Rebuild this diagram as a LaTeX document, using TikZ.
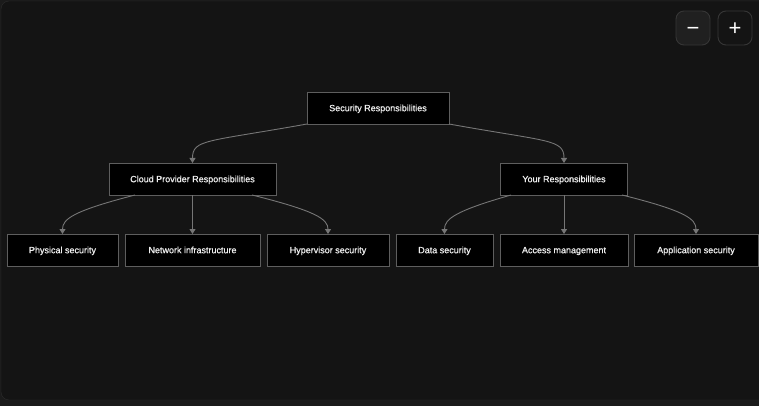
\documentclass[tikz,border=0pt]{standalone}
\usepackage{fontspec}
\setmainfont{Liberation Sans}
\newfontfamily\boxfont[FakeBold=0.8]{Liberation Sans}
\usetikzlibrary{positioning}
\usetikzlibrary{arrows.meta}

\definecolor{outside}{HTML}{1B1B1B}
\definecolor{canvas}{HTML}{141414}
\definecolor{frameline}{HTML}{2C2C2C}
\definecolor{boxline}{HTML}{5E5E5E}
\definecolor{boxtext}{HTML}{F0F0F0}
\definecolor{linkgray}{HTML}{767676}
\definecolor{btnfill}{HTML}{202020}
\definecolor{btnline}{HTML}{363636}

\begin{document}
\begin{tikzpicture}[
    x=1pt, y=-1pt,
    box/.style={draw=boxline, fill=black, text=boxtext, line width=0.9pt,
      minimum height=32pt, inner sep=0pt, outer sep=0pt,
      text height=6.4pt, text depth=0pt,
      font=\boxfont\fontsize{9}{10}\selectfont},
    link/.style={draw=linkgray, line width=0.9pt,
      -{Triangle[length=5pt,width=6pt]}},
    zoombtn/.style={draw=btnline, line width=0.9pt, rounded corners=8pt,
      minimum width=34pt, minimum height=34pt, inner sep=0pt, outer sep=0pt,
      text height=14.6pt, text depth=0pt,
      text=white, font=\fontsize{22}{22}\selectfont}]
    \useasboundingbox (0,0) rectangle (759,406);
    % sfondo e pannello
    \fill[outside] (0,0) rectangle (759,406);
    \begin{scope}
      \clip (0,0) rectangle (759,406);
      \draw[frameline, fill=canvas, rounded corners=8pt] (1,1) rectangle (800,400);
    \end{scope}

    % pulsanti zoom
    \node[zoombtn, fill=btnfill] (zoomout) at (693,28) {−};
    \node[zoombtn, fill=canvas, right=8pt of zoomout] (zoomin) {+};

    % radice
    \node[box, minimum width=142pt] (root) at (378,108) {Security Responsibilities};

    % livello intermedio
    \node[box, minimum width=167pt, below=39pt of root, xshift=-185.5pt] (cloud) {Cloud Provider Responsibilities};
    \node[box, minimum width=127pt, below=39pt of root, xshift=186pt] (yours) {Your Responsibilities};

    % foglie, una accanto all'altra
    \node[box, minimum width=111pt, below=39pt of cloud, xshift=-130pt] (physical) {Physical security};
    \node[box, minimum width=135pt, right=7pt of physical] (network) {Network infrastructure};
    \node[box, minimum width=122pt, right=7pt of network] (hypervisor) {Hypervisor security};
    \node[box, minimum width=97pt, right=7pt of hypervisor] (data) {Data security};
    \node[box, minimum width=128pt, right=7pt of data] (access) {Access management};
    \node[box, minimum width=124pt, right=6pt of access] (application) {Application security};

    % collegamenti
    \draw[link] (root.south west) .. controls +(-100,18) and +(0,-24) .. (cloud.north);
    \draw[link] (root.south east) .. controls +(100,18) and +(0,-24) .. (yours.north);

    \draw[link] ([xshift=-57.5pt]cloud.south) .. controls +(-62,16) and +(0,-15) .. (physical.north);
    \draw[link] (cloud.south) -- (network.north);
    \draw[link] ([xshift=59.5pt]cloud.south) .. controls +(64,16) and +(0,-15) .. (hypervisor.north);

    \draw[link] ([xshift=-53pt]yours.south) .. controls +(-56,16) and +(0,-15) .. (data.north);
    \draw[link] (yours.south) -- (access.north);
    \draw[link] ([xshift=58pt]yours.south) .. controls +(64,16) and +(0,-15) .. (application.north);
\end{tikzpicture}
\end{document}
